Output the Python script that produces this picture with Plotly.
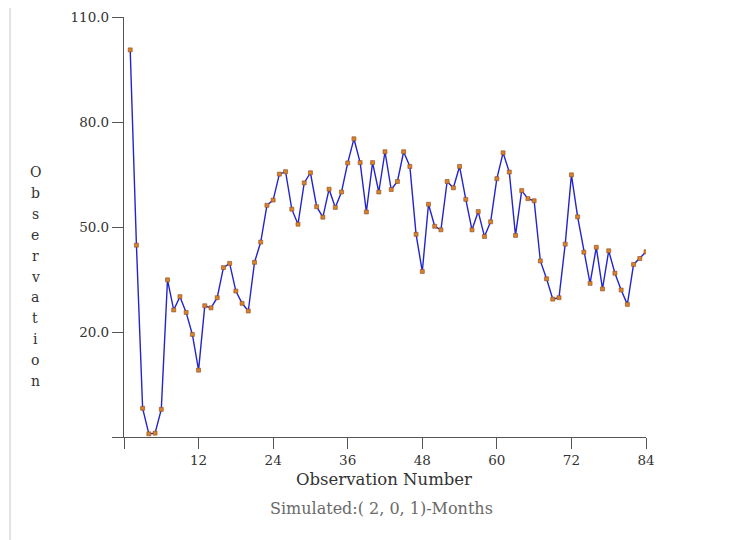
import plotly.graph_objects as go

obs_number = list(range(1, 85))
observation = [
    100.6, 44.8, -1.8, -9.1, -8.9, -2.1, 34.9, 26.3, 30.1, 25.6,
    19.3, 9.1, 27.5, 26.9, 29.8, 38.4, 39.6, 31.7, 28.2, 26.0,
    39.9, 45.7, 56.2, 57.7, 65.1, 65.8, 55.1, 50.8, 62.6, 65.5,
    55.8, 52.8, 60.8, 55.6, 60.0, 68.3, 75.2, 68.4, 54.3, 68.4,
    60.0, 71.5, 60.7, 63.0, 71.5, 67.3, 47.9, 37.3, 56.5, 50.2,
    49.2, 63.0, 61.2, 67.3, 57.9, 49.2, 54.4, 47.3, 51.5, 63.8,
    71.2, 65.7, 47.6, 60.4, 58.1, 57.5, 40.3, 35.2, 29.4, 29.8,
    45.1, 64.9, 52.9, 42.8, 33.9, 44.2, 32.3, 43.2, 36.8, 32.0,
    27.9, 39.3, 41.0, 42.9,
]

x_tickvals = [0, 12, 24, 36, 48, 60, 72, 84]
x_ticktext = ["", "12", "24", "36", "48", "60", "72", "84"]
y_tickvals = [-10, 20, 50, 80, 110]
y_ticktext = ["", "20.0", "50.0", "80.0", "110.0"]

x_title = "Observation Number"
subtitle = "Simulated:( 2, 0, 1)-Months"
y_title = "Observation"

FONT = "DejaVu Serif"
TEXT = "#333"

# page body has an 8px default margin; compensate so the plot lands in place
OFF = 8
W, H = 749 - OFF, 540 - OFF
L, R, T, B = 124 - OFF, 103, 17 - OFF, 103
PW, PH = W - L - R, H - T - B

fig = go.Figure()
fig.add_trace(go.Scatter(
    x=obs_number, y=observation, mode="lines+markers",
    line=dict(color="#2424cc", width=1.4),
    marker=dict(symbol="square", size=4, color="#d9822b",
                line=dict(color="#8a4a20", width=0.6)),
    showlegend=False, hoverinfo="x+y",
))

fig.update_layout(
    width=W, height=H, autosize=False,
    margin=dict(l=L, r=R, t=T, b=B, pad=0),
    plot_bgcolor="white", paper_bgcolor="white",
    font=dict(family=FONT, size=13, color=TEXT),
    xaxis=dict(
        range=[0, 84], tickvals=x_tickvals, ticktext=x_ticktext,
        showgrid=False, zeroline=False, showline=True, linecolor="#555",
        linewidth=1.2, ticks="outside", ticklen=11, tickcolor="#555",
        tickwidth=1.2, tickfont=dict(family=FONT, size=13.5, color=TEXT),
        automargin=False,
    ),
    yaxis=dict(
        range=[-10, 110], tickvals=y_tickvals, ticktext=y_ticktext,
        showgrid=False, zeroline=False, showline=True, linecolor="#555",
        linewidth=1.2, ticks="outside", ticklen=11, tickcolor="#555",
        tickwidth=1.2, tickfont=dict(family=FONT, size=13.5, color=TEXT),
        automargin=False,
    ),
    shapes=[dict(type="line", xref="paper", yref="paper",
                 x0=(10 - 124) / PW, x1=(10 - 124) / PW, y0=-0.3, y1=1.1,
                 line=dict(color="#e4e4e4", width=2))],
)

def px_to_paper(xpx, ypx):
    return (xpx - 124) / PW, 1 - (ypx - 17) / PH

# x-axis title and subtitle
x0, y0 = px_to_paper(384, 479)
fig.add_annotation(text=x_title, xref="paper", yref="paper",
                   x=x0, y=y0, xanchor="center", yanchor="middle",
                   showarrow=False, font=dict(family=FONT, size=16.5, color=TEXT))
x0, y0 = px_to_paper(381, 508)
fig.add_annotation(text=subtitle, xref="paper", yref="paper",
                   x=x0, y=y0, xanchor="center", yanchor="middle",
                   showarrow=False, font=dict(family=FONT, size=16, color="#6a6a6a"))

# vertically stacked y-axis title letters
top_px, step_px = 172, 20.9
for i, ch in enumerate(y_title):
    xp, yp = px_to_paper(35, top_px + i * step_px)
    fig.add_annotation(text=ch, xref="paper", yref="paper",
                       x=xp, y=yp, xanchor="center", yanchor="middle",
                       showarrow=False,
                       font=dict(family=FONT, size=14, color=TEXT))

fig.write_html("out.html")
